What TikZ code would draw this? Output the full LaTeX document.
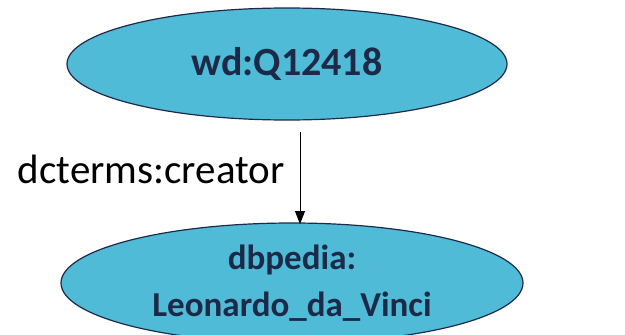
\documentclass[tikz,border=0pt]{standalone}
\usepackage{fontspec}
\setmainfont{Carlito}
\usetikzlibrary{shapes.geometric,arrows.meta}
\definecolor{fillblue}{RGB}{79,187,215}
\definecolor{navy}{RGB}{28,42,72}
\tikzset{
  res/.style={ellipse, draw=navy, line width=1.2pt, fill=fillblue, inner sep=0pt,
    text=navy, font=\bfseries, align=center},
  conn/.style={-{Triangle[length=13pt,width=10pt]}, line width=1pt, black},
}
\begin{document}
\begin{tikzpicture}[x=1pt,y=-1pt]
\useasboundingbox (0,0) rectangle (625,335);
\begin{scope}
\clip (0,0) rectangle (625,335);
\node[res, minimum width=440pt, minimum height=112pt, font=\fontsize{40}{48}\selectfont\bfseries] (q) at (287,64) {wd:Q12418};
\node[res, minimum width=462pt, minimum height=120pt, font=\fontsize{35}{48}\selectfont\bfseries] (leo) at (292,283) {dbpedia:\\[-1pt]Leonardo\_da\_Vinci};
\end{scope}
\coordinate (s) at (300,132);
\coordinate (e) at (300,224);
\draw[conn] (s) -- (e);
\node[anchor=base east, font=\fontsize{41}{48}\selectfont] (lab) at (288,183) {dcterms:creator};
\end{tikzpicture}
\end{document}
